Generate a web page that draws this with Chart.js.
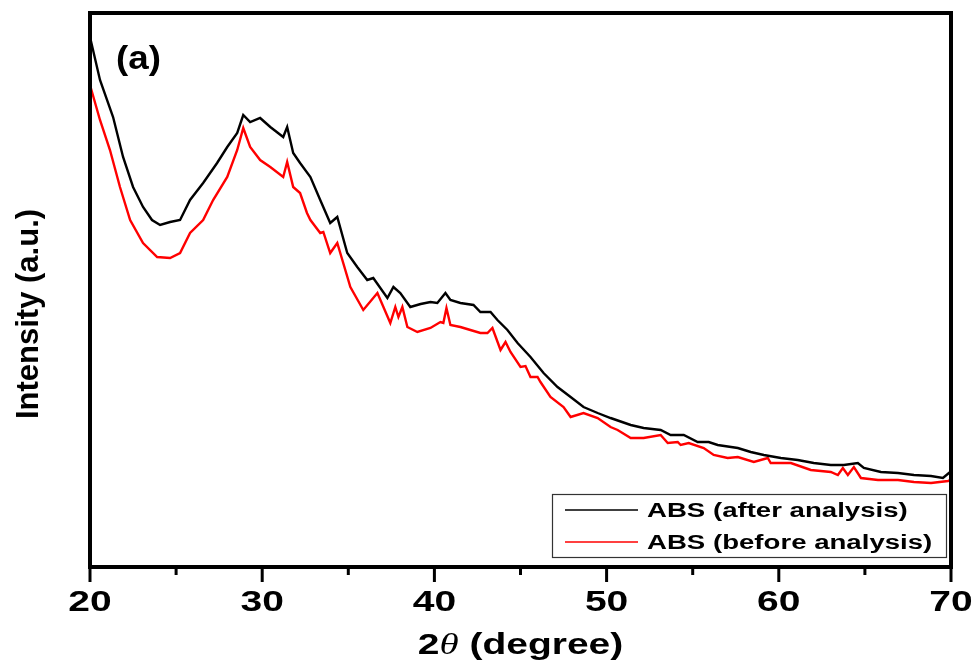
<!DOCTYPE html>
<html>
<head>
<meta charset="utf-8">
<script src="https://cdn.jsdelivr.net/npm/chart.js@4"></script>
<style>
  body { margin: 0; background: #fff; }
  #wrap { width: 975px; height: 665px; position: relative; }
</style>
</head>
<body>
<div id="wrap"><canvas id="xrdChart"></canvas></div>
<script>
// series labels
var seriesLabels = ['ABS (after analysis)', 'ABS (before analysis)'];
var seriesColors = ['#000000', '#ff0000'];

// 2θ positions and intensities (a.u.)
var thetaAfter = [20.0, 20.58, 21.34, 21.92, 22.5, 23.08, 23.6, 24.07, 24.65, 25.23, 25.81, 26.57, 27.38, 27.97,
    28.55, 28.9, 29.3, 29.88, 30.47, 31.22, 31.45, 31.8, 32.2, 32.8, 33.37, 33.95, 34.36, 34.94, 35.52, 36.1,
    36.45, 37.27, 37.62, 38.02, 38.6, 39.2, 39.77, 40.17, 40.64, 40.93, 41.51, 42.27, 42.67, 43.26, 43.66, 44.24,
    44.83, 45.58, 46.34, 47.15, 47.91, 48.66, 49.48, 50.23, 51.4, 52.15, 53.14, 53.72, 54.48, 55.29, 55.93,
    56.45, 57.62, 58.37, 59.13, 60.12, 61.1, 62.03, 63.02, 63.78, 64.59, 64.94, 65.93, 66.92, 67.85, 68.84,
    69.53, 69.88, 70.0];
var intensityAfter = [533, 490, 453, 413, 383, 363, 350, 345, 348, 350, 370, 387, 407, 423,
    437, 455, 448, 452, 443, 433, 443, 417, 407, 393, 370, 347, 353, 317, 303, 290,
    292, 272, 283, 277, 263, 266, 268, 267, 277, 270, 267, 265, 258, 258, 250, 240,
    227, 213, 197, 183, 173, 163, 157, 152, 145, 142, 140, 135, 135, 128, 128,
    125, 122, 118, 115, 112, 110, 107, 105, 105, 107, 102, 98, 97, 95, 94,
    92, 97, 96];

var thetaBefore = [20.0, 20.58, 21.16, 21.74, 22.33, 23.08, 23.9, 24.65, 25.23, 25.81, 26.57, 27.15, 27.97, 28.55,
    28.9, 29.3, 29.88, 30.47, 31.22, 31.45, 31.8, 32.2, 32.6, 32.8, 33.37, 33.55, 33.95, 34.36, 35.12, 35.87,
    36.69, 37.44, 37.73, 37.91, 38.14, 38.43, 39.01, 39.77, 40.35, 40.52, 40.7, 40.93, 41.51, 42.09, 42.67,
    43.08, 43.37, 43.84, 44.13, 44.42, 45.0, 45.29, 45.58, 45.99, 46.16, 46.74, 47.5, 47.91, 48.66, 49.48,
    50.23, 50.64, 51.4, 52.15, 53.14, 53.55, 54.13, 54.3, 54.77, 55.64, 56.22, 57.03, 57.62, 58.55, 59.36,
    59.53, 60.7, 61.86, 63.02, 63.43, 63.72, 64.01, 64.36, 64.77, 65.76, 66.92, 67.85, 68.84, 69.83, 70.0];
var intensityBefore = [485, 450, 420, 383, 350, 327, 313, 312, 317, 337, 350, 370, 393, 420,
    442, 423, 410, 403, 393, 408, 383, 377, 357, 350, 337, 338, 317, 327, 283, 260,
    277, 247, 263, 253, 263, 243, 238, 242, 248, 247, 262, 245, 243, 240, 237,
    237, 242, 220, 228, 218, 203, 204, 193, 193, 188, 173, 163, 153, 157, 152,
    143, 140, 132, 132, 135, 127, 128, 125, 127, 122, 115, 112, 113, 108, 112,
    107, 107, 100, 98, 95, 102, 95, 103, 92, 90, 90, 88, 87, 89, 90];

var xTicks = [20, 30, 40, 50, 60, 70];
var xMinorTicks = [25, 35, 45, 55, 65];

function toPoints(xs, ys) {
    return xs.map(function (x, i) { return { x: x, y: ys[i] }; });
}

// text stretched horizontally like the original figure
function drawText(ctx, parts, x, y, sx, align) {
    ctx.save();
    ctx.textBaseline = 'middle';
    ctx.textAlign = 'left';
    ctx.fillStyle = '#000';
    var total = 0;
    parts.forEach(function (p) { ctx.font = p.font; p.w = ctx.measureText(p.text).width; total += p.w; });
    var x0 = align === 'center' ? x - total * sx / 2 : x;
    ctx.translate(x0, y);
    ctx.scale(sx, 1);
    var cx = 0;
    parts.forEach(function (p) { ctx.font = p.font; ctx.fillText(p.text, cx, 0); cx += p.w; });
    ctx.restore();
}

var FONT = '"Liberation Sans", Arial, sans-serif';

var decorations = {
    id: 'decorations',
    afterDraw: function (chart) {
        var ctx = chart.ctx;
        var a = chart.chartArea;
        var xs = chart.scales.x;

        // frame
        ctx.save();
        ctx.strokeStyle = '#000';
        ctx.lineWidth = 4;
        ctx.strokeRect(a.left, a.top, a.right - a.left, a.bottom - a.top);

        // tick marks
        ctx.lineWidth = 3;
        xTicks.forEach(function (v) {
            var px = xs.getPixelForValue(v);
            ctx.beginPath(); ctx.moveTo(px, a.bottom); ctx.lineTo(px, a.bottom + 15); ctx.stroke();
        });
        xMinorTicks.forEach(function (v) {
            var px = xs.getPixelForValue(v);
            ctx.beginPath(); ctx.moveTo(px, a.bottom); ctx.lineTo(px, a.bottom + 8); ctx.stroke();
        });
        ctx.restore();

        // tick labels
        xTicks.forEach(function (v) {
            drawText(ctx, [{ text: String(v), font: 'bold 30px ' + FONT }], xs.getPixelForValue(v), 603, 1.3, 'center');
        });

        // x title
        drawText(ctx, [
            { text: '2', font: 'bold 30px ' + FONT },
            { text: 'θ', font: 'italic 30px "Liberation Serif", serif' },
            { text: ' (degree)', font: 'bold 30px ' + FONT }
        ], (a.left + a.right) / 2, 646, 1.3, 'center');

        // y title
        ctx.save();
        ctx.translate(29, 314);
        ctx.rotate(-Math.PI / 2);
        drawText(ctx, [{ text: 'Intensity (a.u.)', font: 'bold 31px ' + FONT }], 0, 0, 1.0, 'center');
        ctx.restore();

        // panel label
        drawText(ctx, [{ text: '(a)', font: 'bold 34px ' + FONT }], 116, 60, 1.08, 'left');

        // legend
        ctx.save();
        ctx.fillStyle = '#fff';
        ctx.fillRect(552, 494, 394, 63);
        ctx.strokeStyle = '#333';
        ctx.lineWidth = 1.2;
        ctx.strokeRect(552.5, 494.5, 394, 63);
        var rows = [510, 542];
        chart.data.datasets.forEach(function (ds, i) {
            ctx.strokeStyle = ds.borderColor;
            ctx.lineWidth = 1.6;
            ctx.beginPath(); ctx.moveTo(565, rows[i]); ctx.lineTo(638, rows[i]); ctx.stroke();
            drawText(ctx, [{ text: ds.label, font: 'bold 20px ' + FONT }], 647, rows[i] + 1, 1.38, 'left');
        });
        ctx.restore();
    }
};

var ctx = document.getElementById('xrdChart').getContext('2d');
var xrdChart = new Chart(ctx, {
    type: 'line',
    data: {
        datasets: [{
            label: seriesLabels[0],
            data: toPoints(thetaAfter, intensityAfter),
            borderColor: seriesColors[0],
            borderWidth: 2.4,
            pointRadius: 0,
            tension: 0
        }, {
            label: seriesLabels[1],
            data: toPoints(thetaBefore, intensityBefore),
            borderColor: seriesColors[1],
            borderWidth: 2.4,
            pointRadius: 0,
            tension: 0
        }]
    },
    options: {
        responsive: true,
        maintainAspectRatio: false,
        animation: false,
        layout: { padding: { top: 13, right: 24, left: 0, bottom: 0 } },
        plugins: {
            legend: { display: false },
            tooltip: { enabled: false }
        },
        scales: {
            x: {
                type: 'linear',
                min: 20,
                max: 70,
                ticks: { display: false, stepSize: 10 },
                grid: { display: false },
                border: { display: false },
                afterFit: function (s) { s.height = 98; }
            },
            y: {
                min: 3,
                max: 557,
                ticks: { display: false },
                grid: { display: false },
                border: { display: false },
                afterFit: function (s) { s.width = 90; }
            }
        }
    },
    plugins: [decorations]
});
</script>
</body>
</html>
